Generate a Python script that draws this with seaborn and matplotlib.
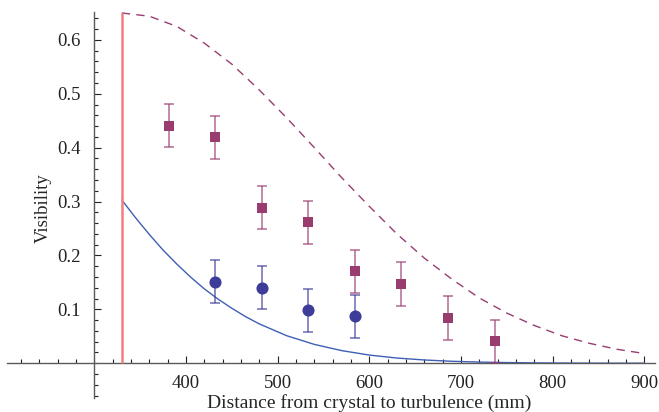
#!/usr/bin/env python3

import pandas as pd
import matplotlib
matplotlib.use("Agg")
import matplotlib.pyplot as plt
import matplotlib.ticker as mticker
import seaborn as sns

# measured points (squares and circles), error +-0.04
sq_x = [381, 432, 483, 533, 584, 635, 686, 737]
sq_y = [0.441, 0.419, 0.289, 0.262, 0.171, 0.147, 0.084, 0.041]
sq_err = [0.04] * len(sq_x)

circ_x = [432, 483, 533, 584]
circ_y = [0.151, 0.140, 0.098, 0.087]
circ_err = [0.04] * len(circ_x)

# theory curves
dashed_x = [330, 360, 390, 420, 450, 480, 510, 540, 570, 600,
            630, 660, 690, 720, 750, 780, 810, 840, 870, 900]
dashed_y = [0.650, 0.644, 0.625, 0.594, 0.555, 0.507, 0.455, 0.400, 0.344, 0.291,
            0.240, 0.195, 0.156, 0.121, 0.093, 0.070, 0.051, 0.037, 0.026, 0.018]

solid_x = [330, 345, 360, 375, 390, 405, 420, 435, 450, 465, 480,
           510, 540, 570, 600, 630, 660, 690, 720, 750, 780, 810, 840, 870, 900]
solid_y = [0.303, 0.270, 0.239, 0.210, 0.184, 0.160, 0.138, 0.119, 0.102, 0.0865, 0.073,
           0.051, 0.035, 0.0234, 0.0152, 0.0097, 0.0061, 0.0037, 0.0022, 0.0013,
           0.0007, 0.0004, 0.0002, 0.0001, 0.0001]

cutoff_x = 330
x_ticks = [400, 500, 600, 700, 800, 900]
y_ticks = [0.1, 0.2, 0.3, 0.4, 0.5, 0.6]

SQ_COLOR = "#993d71"
CIRC_COLOR = "#3d3d99"
LINE_BLUE = "#3f5fb5"
RED = "#f08080"

sns.set_style("white")
plt.rcParams["font.family"] = ["Liberation Serif", "DejaVu Serif"]

fig = plt.figure(figsize=(6.59, 4.12), dpi=100)
ax = fig.add_axes([7.2 / 659, 13.7 / 412, 648.3 / 659, 386.4 / 412])

dashed = pd.DataFrame({"x": dashed_x, "y": dashed_y})
solid = pd.DataFrame({"x": solid_x, "y": solid_y})
sns.lineplot(data=dashed, x="x", y="y", ax=ax, color=SQ_COLOR, lw=1.0, zorder=2)
ax.lines[-1].set_dashes((6, 4.5))
sns.lineplot(data=solid, x="x", y="y", ax=ax, color=LINE_BLUE, lw=1.0, zorder=2)

ax.vlines(cutoff_x, 0, dashed_y[0], color=RED, lw=1.8, zorder=3)

ax.errorbar(sq_x, sq_y, yerr=sq_err, fmt="none", ecolor=SQ_COLOR, alpha=0.7,
            elinewidth=1.2, capsize=3.5, capthick=1.2, zorder=4)
ax.errorbar(circ_x, circ_y, yerr=circ_err, fmt="none", ecolor=CIRC_COLOR, alpha=0.7,
            elinewidth=1.2, capsize=3.5, capthick=1.2, zorder=4)

sq = pd.DataFrame({"x": sq_x, "y": sq_y})
circ = pd.DataFrame({"x": circ_x, "y": circ_y})
sns.scatterplot(data=sq, x="x", y="y", ax=ax, marker="s", s=52, color=SQ_COLOR,
                linewidth=0, zorder=5)
sns.scatterplot(data=circ, x="x", y="y", ax=ax, marker="o", s=76, color=CIRC_COLOR,
                linewidth=0, zorder=5)

ax.set_xlim(205, 912)
ax.set_ylim(-0.065, 0.652)

for s in ["top", "right"]:
    ax.spines[s].set_visible(False)
ax.spines["left"].set_position(("data", 300))
ax.spines["bottom"].set_position(("data", 0))
for s in ["left", "bottom"]:
    ax.spines[s].set_color("#5a5a5a")
    ax.spines[s].set_linewidth(1.0)

ax.xaxis.set_major_locator(mticker.FixedLocator(x_ticks))
ax.xaxis.set_minor_locator(mticker.MultipleLocator(20))
ax.yaxis.set_major_locator(mticker.FixedLocator(y_ticks))
ax.yaxis.set_minor_locator(mticker.MultipleLocator(0.02))
ax.set_xticklabels([str(t) for t in x_ticks])
ax.set_yticklabels([f"{t:.1f}" for t in y_ticks])

ax.tick_params(which="both", direction="in", colors="#222222", width=0.8,
               labelsize=13.5, bottom=True, left=True, top=False, right=False)
ax.tick_params(which="major", length=4.8)
ax.tick_params(which="minor", length=2.8)
ax.tick_params(axis="x", which="major", pad=8.5)
ax.tick_params(axis="y", which="major", pad=10)

ax.set_xlabel("Distance from crystal to turbulence (mm)", fontsize=14, va="center")
ax.xaxis.set_label_coords(369 / 659, 9 / 412, transform=fig.transFigure)
ax.set_ylabel("Visibility", fontsize=13.5, va="center")
ax.yaxis.set_label_coords(43 / 659, 204 / 412, transform=fig.transFigure)

ax.grid(False)
fig.savefig("out.png", dpi=100)
